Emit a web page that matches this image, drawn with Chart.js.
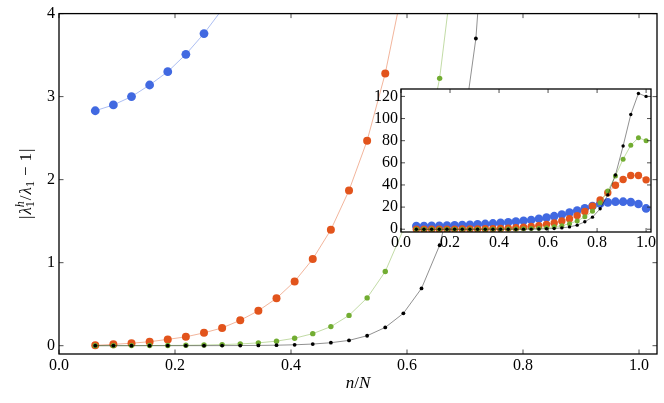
<!DOCTYPE html>
<html><head><meta charset="utf-8">
<script src="https://cdn.jsdelivr.net/npm/chart.js@4/dist/chart.umd.min.js"></script>
<style>
html,body{margin:0;padding:0;background:#fff;}
#wrap{position:relative;width:664px;height:403px;}
canvas{position:absolute;left:0;top:0;}
#inset{pointer-events:none;}
</style></head><body>
<div id="wrap"><canvas id="main" width="664" height="403"></canvas><canvas id="inset" width="664" height="403"></canvas></div>
<script>
// n/N positions
const nOverN = [0.0625, 0.09375, 0.125, 0.15625, 0.1875, 0.21875, 0.25, 0.28125, 0.3125, 0.34375,
  0.375, 0.40625, 0.4375, 0.46875, 0.5, 0.53125, 0.5625, 0.59375, 0.625, 0.65625,
  0.6875, 0.71875, 0.75, 0.78125, 0.8125, 0.84375, 0.875, 0.90625, 0.9375, 0.96875, 1.0];
// series values |lambda_1^h/lambda_1 - 1|
const blueSeries = [2.83, 2.90, 3.00, 3.14, 3.30, 3.51, 3.76,
  4.05, 4.4, 4.8, 5.25, 5.75, 6.3, 6.9,
  7.6, 8.4, 9.4, 10.5, 11.8, 13.3, 15.0,
  16.9, 19.0, 21.0, 23.0, 24.3, 24.9, 24.9,
  24.5, 22.8, 18.8];
const orangeSeries = [0.004, 0.016, 0.03, 0.048, 0.076, 0.107, 0.155,
  0.214, 0.306, 0.421, 0.571, 0.774, 1.044, 1.397,
  1.87, 2.47, 3.28, 4.35, 5.7, 7.4, 9.5,
  12.3, 16.0, 20.8, 26.5, 33.0, 39.8, 45.0,
  48.5, 48.6, 44.6];
const greenSeries = [0.0004, 0.0008, 0.0013, 0.002, 0.003, 0.005, 0.008,
  0.013, 0.021, 0.034, 0.055, 0.09, 0.145, 0.23,
  0.365, 0.576, 0.893, 1.4, 2.15, 3.22, 5.0,
  7.5, 11.2, 16.2, 23.9, 34.5, 48.2, 63.3,
  75.8, 82.7, 80.0];
const blackSeries = [0.00003, 0.00005, 0.0001, 0.0002, 0.0003, 0.0004, 0.0006,
  0.001, 0.0019, 0.0034, 0.006, 0.011, 0.02, 0.036,
  0.064, 0.12, 0.22, 0.39, 0.69, 1.21, 2.12,
  3.70, 6.7, 10.9, 18.5, 31.0, 49.0, 75.2,
  103.6, 122.7, 120.0];
// tick labels
const mainXTicks = [0.0, 0.2, 0.4, 0.6, 0.8, 1.0];
const mainYTicks = [0, 1, 2, 3, 4];
const insetXTicks = [0.0, 0.2, 0.4, 0.6, 0.8, 1.0];
const insetYTicks = [0, 20, 40, 60, 80, 100, 120];

const FAM = "'Liberation Serif', 'DejaVu Serif', serif";
Chart.defaults.font.family = FAM;
Chart.defaults.color = '#000';

// axis titles as rich text pieces (real text)
const F = (style, size) => style + ' ' + size + 'px ' + FAM;
const xTitlePieces = [
  {t: 'n', font: F('italic', 17)},
  {t: '/', font: F('normal', 17)},
  {t: 'N', font: F('italic', 17)}
];
const yTitlePieces = [
  {t: '|', font: F('normal', 17), gap: 1},
  {t: 'λ', font: F('italic', 17)},
  {stack: [{t: 'h', font: F('italic', 12), dy: -7}, {t: '1', font: F('normal', 12), dy: 3}], gap: 1},
  {t: '/', font: F('normal', 17), gap: 1},
  {t: 'λ', font: F('italic', 17)},
  {t: '1', font: F('normal', 12), dy: 3, gap: 5},
  {t: '−', font: F('normal', 17), gap: 5},
  {t: '1', font: F('normal', 17), gap: 1},
  {t: '|', font: F('normal', 17)}
];

function pieceWidth(ctx, p) {
  if (p.stack) return Math.max(...p.stack.map(s => { ctx.font = s.font; return ctx.measureText(s.t).width; }));
  ctx.font = p.font; return ctx.measureText(p.t).width;
}
function drawRich(ctx, pieces, cx, cy, rot) {
  ctx.save();
  ctx.translate(cx, cy); ctx.rotate(rot);
  ctx.fillStyle = '#000'; ctx.textBaseline = 'alphabetic'; ctx.textAlign = 'left';
  let total = 0;
  pieces.forEach(p => { total += pieceWidth(ctx, p) + (p.gap || 0); });
  let x = -total / 2;
  pieces.forEach(p => {
    const w = pieceWidth(ctx, p);
    const items = p.stack ? p.stack : [p];
    items.forEach(s => { ctx.font = s.font; ctx.fillText(s.t, x, s.dy || 0); });
    x += w + (p.gap || 0);
  });
  ctx.restore();
}

function pts(ys) { return nOverN.map((x, i) => ({x: x, y: ys[i]})); }

function makeDatasets(radii) {
  const specs = [
    {data: blueSeries, c: '#4169e1', l: 'rgba(65,105,225,0.55)', r: radii[0], o: 4},
    {data: orangeSeries, c: '#e2541c', l: 'rgba(226,84,28,0.55)', r: radii[1], o: 3},
    {data: greenSeries, c: '#72ad32', l: 'rgba(114,173,50,0.55)', r: radii[2], o: 2},
    {data: blackSeries, c: '#000000', l: 'rgba(0,0,0,0.55)', r: radii[3], o: 1}
  ];
  return specs.map(s => ({
    data: pts(s.data), showLine: true, borderColor: s.l, borderWidth: 0.8,
    pointRadius: s.r, pointBackgroundColor: s.c, pointBorderWidth: 0,
    pointHoverRadius: s.r, tension: 0, order: s.o
  }));
}

function framePlugin(tickLen, lw) {
  return {
    id: 'frame',
    afterDatasetsDraw(chart) {
      const ctx = chart.ctx, a = chart.chartArea, x = chart.scales.x, y = chart.scales.y;
      ctx.save();
      ctx.strokeStyle = '#222';
      ctx.lineWidth = 0.8;
      ctx.beginPath();
      x.ticks.forEach(t => {
        const px = x.getPixelForValue(t.value);
        ctx.moveTo(px, a.bottom); ctx.lineTo(px, a.bottom - tickLen);
        ctx.moveTo(px, a.top); ctx.lineTo(px, a.top + tickLen);
      });
      y.ticks.forEach(t => {
        const py = y.getPixelForValue(t.value);
        ctx.moveTo(a.left, py); ctx.lineTo(a.left + tickLen, py);
        ctx.moveTo(a.right, py); ctx.lineTo(a.right - tickLen, py);
      });
      ctx.stroke();
      ctx.strokeStyle = '#000';
      ctx.lineWidth = lw;
      ctx.strokeRect(a.left, a.top, a.right - a.left, a.bottom - a.top);
      ctx.restore();
    }
  };
}

const axisTitles = {
  id: 'axisTitles',
  afterDraw(chart) {
    const a = chart.chartArea;
    drawRich(chart.ctx, xTitlePieces, (a.left + a.right) / 2, 388, 0);
    drawRich(chart.ctx, yTitlePieces, 31, (a.top + a.bottom) / 2, -Math.PI / 2);
  }
};

const whiteBg = {
  id: 'whiteBg',
  beforeDatasetsDraw(chart) {
    const ctx = chart.ctx, a = chart.chartArea;
    ctx.save(); ctx.fillStyle = '#fff';
    ctx.fillRect(a.left, a.top, a.right - a.left, a.bottom - a.top);
    ctx.restore();
  }
};

function setTicks(list) { return function(axis) { axis.ticks = list.map(v => ({value: v})); }; }

new Chart(document.getElementById('main'), {
  type: 'scatter',
  data: {datasets: makeDatasets([4.4, 4.0, 2.7, 1.9])},
  options: {
    responsive: false, animation: false, events: [],
    layout: {padding: {left: 0, top: 9, right: 7, bottom: 0}},
    plugins: {legend: {display: false}, tooltip: {enabled: false}},
    scales: {
      x: {type: 'linear', min: 0, max: 1.031,
        afterBuildTicks: setTicks(mainXTicks),
        afterFit: s => { s.height = 49; },
        grid: {display: false, drawTicks: false}, border: {display: false},
        ticks: {padding: 2.5, font: {size: 16}, callback: v => v.toFixed(1), maxRotation: 0}
      },
      y: {type: 'linear', min: -0.1, max: 4,
        afterBuildTicks: setTicks(mainYTicks),
        afterFit: s => { s.width = 59; },
        grid: {display: false, drawTicks: false}, border: {display: false},
        ticks: {padding: 4, font: {size: 16}, callback: v => String(v)}
      }
    }
  },
  plugins: [framePlugin(4.5, 1.3), axisTitles]
});

new Chart(document.getElementById('inset'), {
  type: 'scatter',
  data: {datasets: makeDatasets([4.3, 3.7, 2.5, 1.7])},
  options: {
    responsive: false, animation: false, events: [],
    layout: {padding: {left: 361, top: 89, right: 13, bottom: 151}},
    plugins: {legend: {display: false}, tooltip: {enabled: false}},
    scales: {
      x: {type: 'linear', min: 0, max: 1.02,
        afterBuildTicks: setTicks(insetXTicks),
        afterFit: s => { s.height = 20; },
        grid: {display: false, drawTicks: false}, border: {display: false},
        ticks: {padding: 1.2, font: {size: 16}, callback: v => v.toFixed(1), maxRotation: 0}
      },
      y: {type: 'linear', min: -2.5, max: 126.7,
        afterBuildTicks: setTicks(insetYTicks),
        afterFit: s => { s.width = 40; },
        grid: {display: false, drawTicks: false}, border: {display: false},
        ticks: {padding: 3, font: {size: 16}, callback: v => String(v)}
      }
    }
  },
  plugins: [whiteBg, framePlugin(4, 1.3)]
});
</script>
</body></html>
